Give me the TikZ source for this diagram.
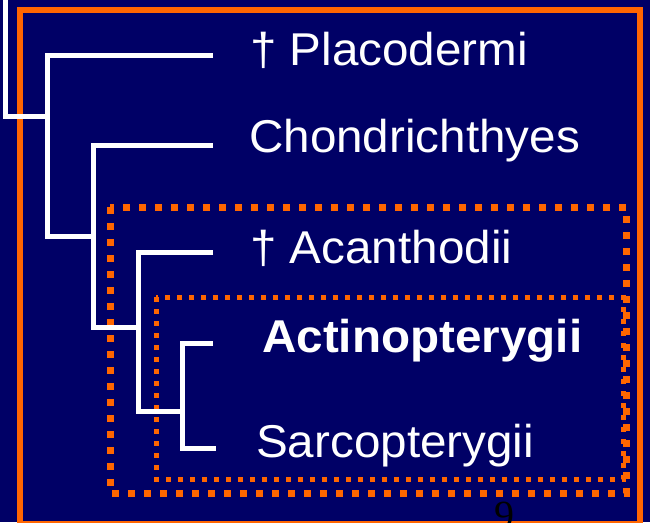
\documentclass[tikz,border=0pt]{standalone}
\usepackage{fontspec}
\setmainfont[FakeStretch=1.035]{Liberation Sans}
\newfontfamily\pagefont{Liberation Serif}
\usetikzlibrary{positioning}
\definecolor{navy}{RGB}{0,0,102}
\definecolor{orng}{RGB}{255,102,0}
\tikzset{
    taxon/.style = {anchor=base west, inner sep=0pt, text=white, font=\fontsize{46}{50}\selectfont},
    taxonb/.style = {taxon, font=\fontsize{46}{50}\selectfont\bfseries},
    edgew/.style = {-, line width=5pt, white},
    framen/.style = {line width=6pt, orng},
    boxd/.style = {line width=7pt, orng, dash pattern=on 7pt off 9pt}, % outer clade
    boxdi/.style = {line width=5pt, orng, dash pattern=on 5pt off 7pt}, % inner clade
}

\begin{document}
\begin{tikzpicture}[x=1pt, y=-1pt]
  \useasboundingbox (0,0) rectangle (650,522);
  \clip (0,0) rectangle (650,522);
  \fill[navy] (0,0) rectangle (650,522);
  \draw[framen] (20,10) rectangle (640,524);

  % clade boxes
  \draw[boxd] (110,207) rectangle (626,493);
  \draw[boxdi] (156,297) rectangle (623,479);

  % branch points
  \coordinate (root) at (5,0);
  \coordinate (k1) at (47,116);
  \coordinate (b1) at (47,236);
  \coordinate (k2) at (93,236);
  \coordinate (b2) at (93,327);
  \coordinate (k3) at (138,327);
  \coordinate (b3) at (138,411);
  \coordinate (k4) at (182,411);
  \coordinate (b4) at (182,448);

  % tips
  \coordinate (tplac) at (213,55);
  \coordinate (tchon) at (213,145);
  \coordinate (tacan) at (213,252);
  \coordinate (tacti) at (213,343);
  \coordinate (tsarc) at (216,448);

  \draw[edgew] (root) |- (k1);
  \draw[edgew] (tplac) -| (b1) -- (k2);
  \draw[edgew] (tchon) -| (b2) -- (k3);
  \draw[edgew] (tacan) -| (b3) -- (k4);
  \draw[edgew] (tacti) -| (b4) -- (tsarc);

  \node[taxon] (plac) at (250,65) {† Placodermi};
  \node[taxon] (chon) at (249,152) {Chondrichthyes};
  \node[taxon] (acan) at (250,263) {† Acanthodii};
  \node[taxonb] (acti) at (262,352) {Actinopterygii};
  \node[taxon] (sarc) at (256,457) {Sarcopterygii};

  \node[anchor=north, inner sep=0pt, text=black, font=\pagefont\fontsize{40}{44}\selectfont] (pg) at (504,502) {9};
\end{tikzpicture}
\end{document}
